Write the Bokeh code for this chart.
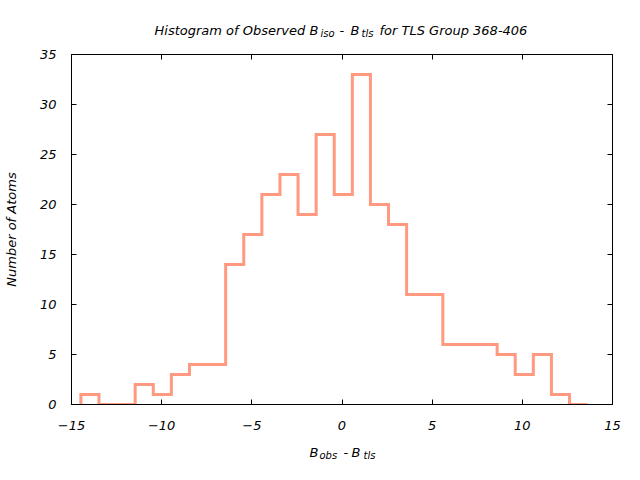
import numpy as np
from bokeh.plotting import figure
from bokeh.models import Range1d, LinearAxis, SingleIntervalTicker, Label
from bokeh.layouts import column
from bokeh.embed import file_html
from bokeh.resources import INLINE

# Histogram data
bin_lo = -14.48
bin_hi = 13.62
counts = [1, 0, 0, 2, 1, 3, 4, 4, 14, 17, 21, 23, 19, 27, 21, 33, 20, 18,
          11, 11, 6, 6, 6, 5, 3, 5, 1, 0]
x_ticks_interval = 5
y_ticks_interval = 5

edges = np.linspace(bin_lo, bin_hi, len(counts) + 1)
xs = [edges[0]]
ys = [0]
for i, c in enumerate(counts):
    xs += [edges[i], edges[i + 1]]
    ys += [c, c]

FONT = "DejaVu Sans"
FS = "13px"
SUB = "10px"
LINE = "#ff9980"
FRAME_LEFT = 67

p = figure(width=640, height=400, output_backend="svg", toolbar_location=None,
           x_range=Range1d(-15, 15), y_range=Range1d(0, 35),
           min_border_left=FRAME_LEFT, min_border_right=28, min_border_top=14,
           min_border_bottom=36, x_axis_location=None, y_axis_location=None)
p.xgrid.visible = False
p.ygrid.visible = False
p.outline_line_color = "black"
p.outline_line_width = 1

p.line(xs, ys, line_color=LINE, line_width=3, line_join="miter")

def style(ax, show_labels):
    ax.axis_line_color = "black"
    ax.major_tick_in = 5
    ax.major_tick_out = 0
    ax.minor_tick_line_color = None
    ax.major_tick_line_color = "black"
    ax.major_label_text_font = FONT
    ax.major_label_text_font_style = "italic"
    ax.major_label_text_color = "black"
    if show_labels:
        ax.major_label_text_font_size = FS
    else:
        ax.major_label_text_font_size = "0px"
        ax.major_label_text_alpha = 0

bx = LinearAxis(ticker=SingleIntervalTicker(interval=x_ticks_interval))
style(bx, True)
bx.major_label_standoff = 12
p.add_layout(bx, "below")

tx = LinearAxis(ticker=SingleIntervalTicker(interval=x_ticks_interval))
style(tx, False)
p.add_layout(tx, "above")

ly = LinearAxis(ticker=SingleIntervalTicker(interval=y_ticks_interval))
style(ly, True)
ly.major_label_standoff = 11
ly.axis_label = "Number of Atoms"
ly.axis_label_text_font = FONT
ly.axis_label_text_font_style = "italic"
ly.axis_label_text_font_size = FS
ly.axis_label_text_color = "black"
ly.axis_label_standoff = 18
p.add_layout(ly, "left")

ry = LinearAxis(ticker=SingleIntervalTicker(interval=y_ticks_interval))
style(ry, False)
p.add_layout(ry, "right")


def text_strip(h):
    f = figure(width=640, height=h, output_backend="svg", toolbar_location=None,
               x_range=Range1d(0, 640), y_range=Range1d(0, h),
               min_border=0, min_border_left=0, min_border_right=0,
               min_border_top=0, min_border_bottom=0,
               x_axis_location=None, y_axis_location=None)
    f.xgrid.visible = False
    f.ygrid.visible = False
    f.outline_line_color = None
    return f


def lab(f, text, cx, y, size=FS):
    # cx: page x position; the strip's frame is aligned with the main frame
    f.add_layout(Label(x=cx - FRAME_LEFT, y=y, x_units="screen", y_units="screen",
                       text=text, text_font=FONT, text_font_style="italic",
                       text_font_size=size, text_color="black",
                       text_baseline="alphabetic", text_align="left"))

# Title strip: page y 0..40
t = text_strip(40)
lab(t, "Histogram of Observed", 150, 10.5)
lab(t, "B", 305, 10.5)
lab(t, "iso", 316, 7, SUB)
lab(t, "-", 335, 10.5)
lab(t, "B", 346, 10.5)
lab(t, "tls", 357, 7, SUB)
lab(t, "for TLS Group 368-406", 375, 10.5)

# x-label strip: page y 440..480
b = text_strip(40)
lab(b, "B", 305, 28.5)
lab(b, "obs", 315, 25, SUB)
lab(b, "-", 339, 28.5)
lab(b, "B", 347, 28.5)
lab(b, "tls", 359, 25, SUB)

layout = column(t, p, b, spacing=0)
open("out.html", "w").write(file_html(layout, INLINE))
